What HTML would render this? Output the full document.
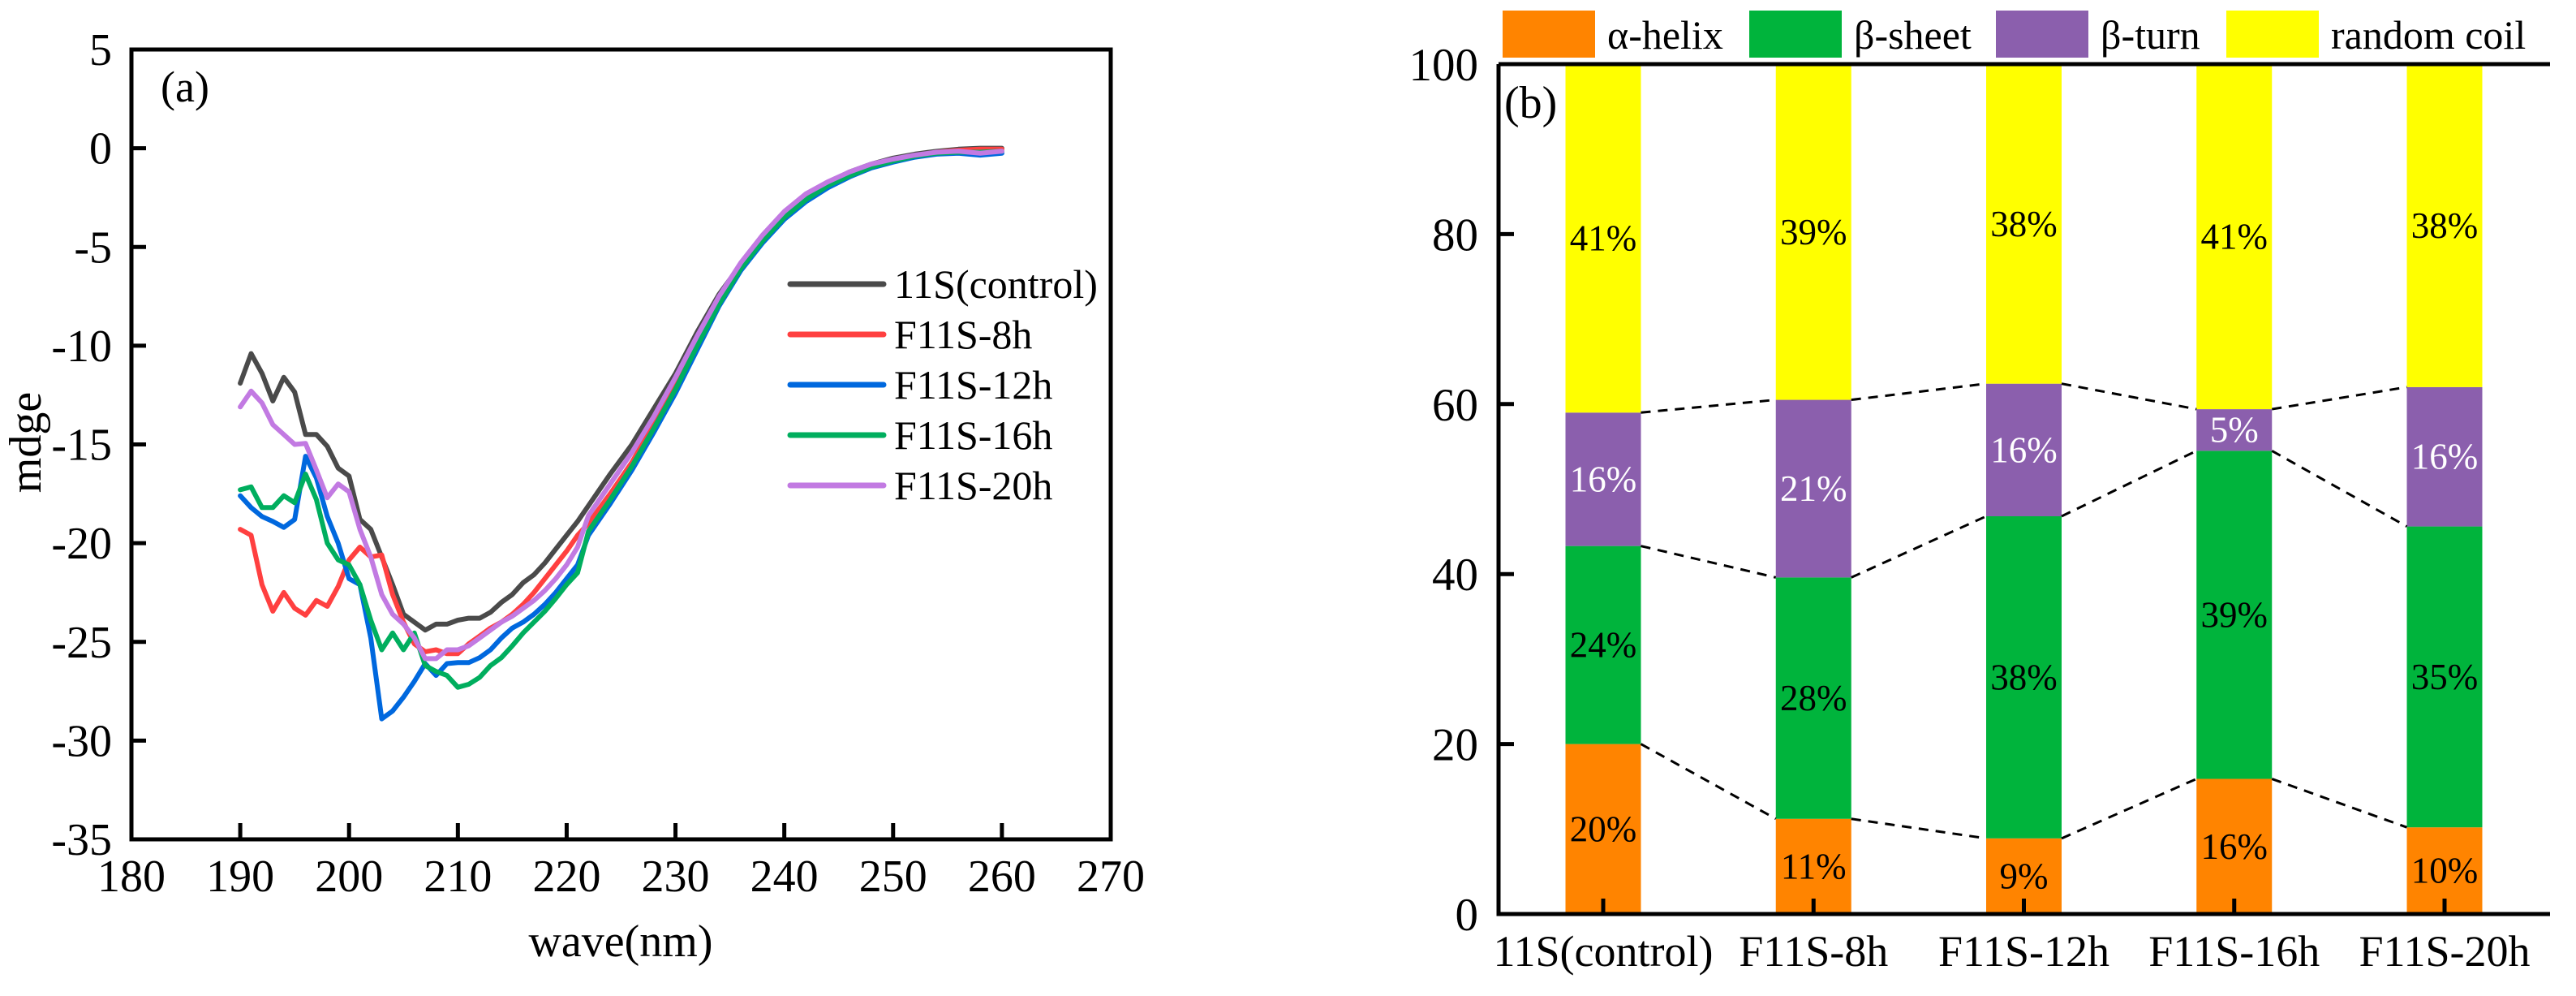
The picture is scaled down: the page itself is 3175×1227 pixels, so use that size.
<!DOCTYPE html>
<html><head><meta charset="utf-8">
<style>
html,body{margin:0;padding:0;background:#fff;}
svg, svg text{font-family:"Liberation Serif","Times New Roman",Times,"DejaVu Serif",serif;}
</style></head>
<body>
<svg id="fig" width="3175" height="1222" viewBox="0 0 3175 1222" xmlns="http://www.w3.org/2000/svg" font-family="'Liberation Serif', 'Times New Roman', serif">
<g id="chartA"></g>
<g id="chartB"></g>
</svg>
<script>
// ---------- Chart (a) data ----------
const waveA = [190,191,192,193,194,195,196,197,198,199,200,201,202,203,204,205,206,207,208,209,210,211,212,213,214,215,216,217,218,219,220,221,222,224,226,228,230,232,234,236,238,240,242,244,246,248,250,252,254,256,258,260];
const ctrlVals = [-11.9,-10.4,-11.4,-12.8,-11.6,-12.35,-14.5,-14.5,-15.1,-16.2,-16.6,-18.8,-19.3,-20.7,-22.1,-23.6,-24.0,-24.4,-24.1,-24.1,-23.9,-23.8,-23.8,-23.5,-23.0,-22.6,-22.0,-21.6,-21.0,-20.3,-19.6,-18.9,-18.1,-16.5,-15.0,-13.2,-11.4,-9.3,-7.4,-5.9,-4.5,-3.3,-2.4,-1.75,-1.2,-0.8,-0.5,-0.3,-0.15,-0.05,0.0,0.0];
const h8Vals = [-19.3,-19.6,-22.1,-23.45,-22.5,-23.3,-23.65,-22.9,-23.2,-22.2,-20.85,-20.2,-20.7,-20.6,-22.6,-24.0,-25.1,-25.5,-25.4,-25.6,-25.6,-25.1,-24.7,-24.3,-24.0,-23.6,-23.1,-22.5,-21.8,-21.1,-20.4,-19.6,-19.0,-17.5,-15.9,-14.0,-12.0,-9.8,-7.7,-6.0,-4.6,-3.4,-2.5,-1.85,-1.3,-0.9,-0.6,-0.4,-0.2,-0.1,-0.05,-0.05];
const h12Vals = [-17.6,-18.2,-18.65,-18.9,-19.2,-18.8,-15.6,-16.7,-18.65,-20.0,-21.8,-22.1,-24.8,-28.9,-28.5,-27.8,-27.0,-26.1,-26.7,-26.1,-26.05,-26.05,-25.8,-25.4,-24.8,-24.3,-24.0,-23.6,-23.1,-22.5,-21.8,-21.1,-19.6,-18.0,-16.3,-14.4,-12.4,-10.2,-8.0,-6.2,-4.8,-3.6,-2.7,-2.0,-1.45,-1.0,-0.7,-0.45,-0.3,-0.25,-0.35,-0.25];
const h16Vals = [-17.3,-17.15,-18.2,-18.2,-17.6,-17.95,-16.5,-17.8,-20.0,-20.85,-21.1,-22.1,-23.9,-25.4,-24.55,-25.4,-24.55,-26.2,-26.5,-26.7,-27.3,-27.15,-26.8,-26.2,-25.8,-25.2,-24.55,-24.0,-23.45,-22.8,-22.1,-21.5,-19.4,-17.8,-16.1,-14.2,-12.2,-10.0,-7.9,-6.1,-4.7,-3.5,-2.6,-1.9,-1.4,-0.95,-0.65,-0.4,-0.25,-0.2,-0.2,-0.15];
const h20Vals = [-13.1,-12.3,-12.9,-14.0,-14.5,-15.0,-14.95,-16.3,-17.7,-17.0,-17.4,-19.3,-20.7,-22.6,-23.6,-24.1,-24.8,-25.85,-25.85,-25.4,-25.4,-25.2,-24.8,-24.4,-24.0,-23.7,-23.3,-22.9,-22.4,-21.8,-21.1,-20.2,-18.6,-17.0,-15.4,-13.6,-11.6,-9.5,-7.5,-5.8,-4.4,-3.2,-2.3,-1.7,-1.2,-0.8,-0.55,-0.35,-0.2,-0.15,-0.25,-0.15];
const seriesNamesA = ["11S(control)","F11S-8h","F11S-12h","F11S-16h","F11S-20h"];
const xTicksA = [180,190,200,210,220,230,240,250,260,270];
const yTicksA = [5,0,-5,-10,-15,-20,-25,-30,-35];

// ---------- Chart (b) data ----------
const categoriesB = ["11S(control)","F11S-8h","F11S-12h","F11S-16h","F11S-20h"];
const helixVals = [20.0,11.2,8.9,15.9,10.2];
const sheetVals = [23.3,28.4,37.9,38.6,35.4];
const turnVals = [15.7,20.9,15.6,4.9,16.4];
const coilVals = [41.0,39.5,37.6,40.6,38.0];
const helixLabels = ["20%","11%","9%","16%","10%"];
const sheetLabels = ["24%","28%","38%","39%","35%"];
const turnLabels = ["16%","21%","16%","5%","16%"];
const coilLabels = ["41%","39%","38%","41%","38%"];
const yTicksB = [0,20,40,60,80,100];
const legendNamesB = ["α-helix","β-sheet","β-turn","random coil"];

const NS = "http://www.w3.org/2000/svg";
const FONT = "'Liberation Serif', 'Times New Roman', Times, serif";
function mk(parent, tag, attrs, text){
  const e = document.createElementNS(NS, tag);
  for (const k in attrs) e.setAttribute(k, attrs[k]);
  if (tag === 'text') { e.setAttribute('font-family', FONT); e.style.fontFamily = FONT; }
  if (text !== undefined) e.textContent = text;
  parent.appendChild(e);
  return e;
}

// ================= Chart A =================
(function(){
  const g = document.getElementById('chartA');
  const L=162, R=1369, T=61, B=1034;
  const xA = w => L + (w-180)/90*(R-L);
  const yA = v => T + (5-v)/40*(B-T);
  const colors = ["#4a4a4a","#ff4040","#0068de","#00ae5e","#c27ae2"];
  const allVals = [ctrlVals,h8Vals,h12Vals,h16Vals,h20Vals];

  const frame = mk(g,'rect',{x:L,y:T,width:R-L,height:B-T,fill:'none',stroke:'#000','stroke-width':5});
  
  

  yTicksA.forEach(v=>{
    const t = mk(g,'line',{x1:L,x2:L+18,y1:yA(v),y2:yA(v),stroke:'#000','stroke-width':5});
    
    
    const lb = mk(g,'text',{x:L-24,y:yA(v)+19,'text-anchor':'end','font-size':56},String(v));
    
    
  });
  xTicksA.forEach(w=>{
    const t = mk(g,'line',{x1:xA(w),x2:xA(w),y1:B,y2:B-20,stroke:'#000','stroke-width':5});
    
    
    const lb = mk(g,'text',{x:xA(w),y:1098,'text-anchor':'middle','font-size':56},String(w));
    
    
  });
  const xt = mk(g,'text',{x:765,y:1178,'text-anchor':'middle','font-size':56},'wave(nm)');
  
  
  const yt = mk(g,'text',{x:0,y:0,'text-anchor':'middle','font-size':56,transform:'translate(50,545) rotate(-90)'},'mdge');
  
  
  const pl = mk(g,'text',{x:198,y:125,'font-size':54},'(a)');
  
  

  allVals.forEach((vals,i)=>{
    const d = vals.map((v,j)=>(j?'L':'M')+xA(waveA[j]).toFixed(1)+','+yA(v).toFixed(1)).join(' ');
    const p = mk(g,'path',{d:d,fill:'none',stroke:colors[i],'stroke-width':6,'stroke-linejoin':'round','stroke-linecap':'round'});
    
    
  });
  seriesNamesA.forEach((n,i)=>{
    const y = 350 + i*62;
    const ln = mk(g,'line',{x1:974,x2:1089,y1:y,y2:y,stroke:colors[i],'stroke-width':7,'stroke-linecap':'round'});
    
    
    const tx = mk(g,'text',{x:1102,y:y+17,'font-size':50},n);
    
    
  });
})();

// ================= Chart B =================
(function(){
  const g = document.getElementById('chartB');
  const L=1847, R=3143, T=79, B=1126;
  const yB = v => B - v/100*(B-T);
  const xC = i => 1976 + i*259.25;
  const bw = 93;
  const segColors = ["#ff8400","#00b43c","#8b5fad","#ffff00"];
  const segVals = [helixVals,sheetVals,turnVals,coilVals];
  const segLabels = [helixLabels,sheetLabels,turnLabels,coilLabels];
  const segNames = ["helix","sheet","turn","coil"];
  const labelColors = ["#000","#000","#fff","#000"];

  categoriesB.forEach((c,i)=>{
    let base = 0;
    segVals.forEach((arr,s)=>{
      const v = arr[i];
      const top = (s===3) ? 100 : base+v;
      const r = mk(g,'rect',{x:xC(i)-bw/2,y:yB(top),width:bw,height:yB(base)-yB(top),fill:segColors[s]});
      
      
      const lb = mk(g,'text',{x:xC(i),y:yB((base+top)/2)+15,'text-anchor':'middle','font-size':45,fill:labelColors[s]},segLabels[s][i]);
      
      
      base = top;
    });
  });
  const cum = [helixVals.map(v=>v), helixVals.map((v,i)=>v+sheetVals[i]), helixVals.map((v,i)=>v+sheetVals[i]+turnVals[i])];
  cum.forEach(arr=>{
    for(let i=0;i<arr.length-1;i++){
      const ln = mk(g,'line',{x1:xC(i)+bw/2,y1:yB(arr[i]),x2:xC(i+1)-bw/2,y2:yB(arr[i+1]),stroke:'#000','stroke-width':3,'stroke-dasharray':'12,9'});
      
      
    }
  });
  const ax = mk(g,'path',{d:`M${L},${T} L${L},${B} L${R},${B} M${L},${T} L${R},${T}`,fill:'none',stroke:'#000','stroke-width':5});
  
  
  yTicksB.forEach(v=>{
    const t = mk(g,'line',{x1:L,x2:L+19,y1:yB(v),y2:yB(v),stroke:'#000','stroke-width':5});
    
    
    const lb = mk(g,'text',{x:1822,y:yB(v)+20,'text-anchor':'end','font-size':57},String(v));
    
    
  });
  categoriesB.forEach((c,i)=>{
    const t = mk(g,'line',{x1:xC(i),x2:xC(i),y1:B,y2:B-19,stroke:'#000','stroke-width':5});
    
    
    const lb = mk(g,'text',{x:xC(i),y:1190,'text-anchor':'middle','font-size':54},c);
    
    
  });
  const pl = mk(g,'text',{x:1854,y:145,'font-size':56},'(b)');
  
  
  const boxX = [1852,2156,2460,2744];
  legendNamesB.forEach((n,i)=>{
    const r = mk(g,'rect',{x:boxX[i],y:13,width:114,height:58,fill:segColors[i]});
    
    
    const tx = mk(g,'text',{x:boxX[i]+129,y:60,'font-size':50},n);
    
    
  });
})();
</script>
</body></html>
